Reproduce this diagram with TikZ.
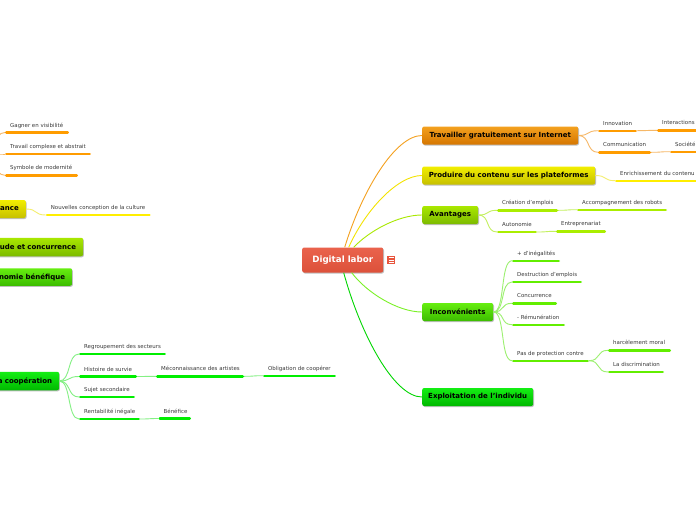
\documentclass[tikz,border=0pt]{standalone}
\usepackage{fontspec}
\setmainfont{DejaVu Sans}
\usetikzlibrary{shadows}
\definecolor{orTop}{HTML}{F4A11F}\definecolor{orBot}{HTML}{D57600}
\definecolor{orUL}{HTML}{FF9C00}\definecolor{orLn}{HTML}{F6B868}
\definecolor{yeTop}{HTML}{F2EE00}\definecolor{yeBot}{HTML}{C6C000}
\definecolor{yeUL}{HTML}{FFEE00}\definecolor{yeLn}{HTML}{F4EE70}
\definecolor{ygTop}{HTML}{A9E800}\definecolor{ygBot}{HTML}{7CBA00}
\definecolor{ygUL}{HTML}{AAEE00}\definecolor{ygLn}{HTML}{C4F060}
\definecolor{gTop}{HTML}{66EE10}\definecolor{gBot}{HTML}{3CBC00}
\definecolor{gUL}{HTML}{62EE00}\definecolor{gLn}{HTML}{9CF070}
\definecolor{bgTop}{HTML}{14EE14}\definecolor{bgBot}{HTML}{00B800}
\definecolor{bgUL}{HTML}{00EE00}\definecolor{bgLn}{HTML}{84F084}
\definecolor{ctrRed}{HTML}{E8553D}
\definecolor{labGray}{HTML}{383838}
\newcommand\mmboxfont{\bfseries\fontsize{7}{8}\selectfont}
\newcommand\mmlabfont{\fontsize{5.45}{6}\selectfont}
\newcommand\mmlab[6]{% name, x0, x1, y, colour, text
  \node[ulnode, minimum width={#3-#2}] (#1) at (#2,#4) {};
  \draw[ulline=#5] (#1.west) -- (#1.east);
  \node[labtxt] (#1t) at ([xshift=5pt,yshift=5.5pt]#1.west) {#6};}
\begin{document}
\begin{tikzpicture}[x=1pt,y=-1pt,
  mmbox/.style={rounded corners=2pt, inner xsep=0pt, inner ysep=0pt,
    minimum height=18, font=\mmboxfont, text=black, anchor=west,
    drop shadow={shadow xshift=0.8pt, shadow yshift=-1pt, opacity=0.25, fill=black}},
  lbox/.style={mmbox, anchor=east, text width=140, align=right, inner xsep=7pt},
  c-or/.style={top color=orTop, bottom color=orBot},
  c-ye/.style={top color=yeTop, bottom color=yeBot},
  c-yg/.style={top color=ygTop, bottom color=ygBot},
  c-g/.style={top color=gTop, bottom color=gBot},
  c-bg/.style={top color=bgTop, bottom color=bgBot},
  ulnode/.style={anchor=west, inner sep=0pt, outer sep=0pt, minimum height=0pt},
  ulline/.style={draw=#1, line width=2.4pt, line cap=round, shorten <=1.2pt, shorten >=1.2pt},
  labtxt/.style={anchor=base west, inner sep=0pt, font=\mmlabfont, text=labGray},
  cn/.style={draw=#1, line width=0.9pt},
  mm/.style={to path={.. controls ([xshift=12pt]\tikztostart) and ([xshift=-12pt]\tikztotarget) .. (\tikztotarget)}}
]
\useasboundingbox (0,0) rectangle (696,520);
\clip (0,0) rectangle (696,520);
\fill[white] (0,0) rectangle (696,520);

% ---------- centre ----------
\node[mmbox, minimum width=81, minimum height=25, top color=ctrRed!92!white, bottom color=ctrRed!95!black,
      font=\bfseries\fontsize{8.7}{10}\selectfont, text=white] (ctr) at (302,260) {Digital labor};
\node[fill=ctrRed, minimum width=8, minimum height=8.3, inner sep=0pt] (noteicon) at (391.2,259.9) {};
\draw[white, line width=0.7pt] ([xshift=1.8pt,yshift=-2pt]noteicon.north west) -- ([xshift=-1.8pt,yshift=-2pt]noteicon.north east)
  ([xshift=1.8pt]noteicon.west) -- ([xshift=-1.8pt]noteicon.east)
  ([xshift=1.8pt,yshift=2pt]noteicon.south west) -- ([xshift=-1.8pt,yshift=2pt]noteicon.south east);

% ---------- right main branches ----------
\node[mmbox, c-or, minimum width=156] (trav) at (422,135.5) {Travailler gratuitement sur Internet};
\node[mmbox, c-ye, minimum width=173] (prod) at (422,175.5) {Produire du contenu sur les plateformes};
\node[mmbox, c-yg, minimum width=56] (avant) at (422,215) {Avantages};
\node[mmbox, c-g, minimum width=71] (incon) at (422,312) {Inconvénients};
\node[mmbox, c-bg, minimum width=111] (explo) at (422,397) {Exploitation de l'individu};

\draw[cn=orTop] ([xshift=2pt]ctr.north) .. controls +(17,-56) and +(-27,0) .. (trav.west);
\draw[cn=yeTop!90!orange] ([xshift=6pt]ctr.north) .. controls +(16,-36) and +(-25,0) .. (prod.west);
\draw[cn=ygTop] ([xshift=11pt]ctr.north) .. controls +(15,-16) and +(-24,0) .. (avant.west);
\draw[cn=gUL!85!white] ([xshift=9pt]ctr.south) .. controls +(15,20) and +(-24,0) .. (incon.west);
\draw[cn=bgUL!90!black] ([xshift=1pt]ctr.south) .. controls +(17,62) and +(-28,0) .. (explo.west);

% ---------- right labels ----------
\mmlab{inno}{598}{637}{130.7}{orUL}{Innovation}
\mmlab{inter}{657}{712}{130.3}{orUL}{Interactions}
\mmlab{comm}{598}{651}{152.3}{orUL}{Communication}
\mmlab{soc}{670}{712}{151.7}{orUL}{Société}
\draw[cn=orLn] (trav.east) to[mm] (inno.west);
\draw[cn=orLn] (trav.east) to[mm] (comm.west);
\draw[cn=orLn] (inno.east) to[mm] (inter.west);
\draw[cn=orLn] (comm.east) to[mm] (soc.west);

\mmlab{enrich}{615}{712}{180.7}{yeUL}{Enrichissement du contenu}
\draw[cn=yeLn] (prod.east) to[mm] (enrich.west);

\mmlab{crea}{497}{558}{210.3}{ygUL}{Création d'emplois}
\mmlab{accomp}{577}{667}{209.7}{ygUL}{Accompagnement des robots}
\mmlab{auto}{497}{537}{232}{ygUL}{Autonomie}
\mmlab{entre}{556}{606}{231.3}{ygUL}{Entreprenariat}
\draw[cn=ygLn] (avant.east) to[mm] (crea.west);
\draw[cn=ygLn] (avant.east) to[mm] (auto.west);
\draw[cn=ygLn] (crea.east) to[mm] (accomp.west);
\draw[cn=ygLn] (auto.east) to[mm] (entre.west);

\mmlab{ineg}{512}{560}{260.7}{gUL}{+ d'inégalités}
\mmlab{destr}{512}{582}{282}{gUL}{Destruction d'emplois}
\mmlab{conc}{512}{557}{303.3}{gUL}{Concurrence}
\mmlab{remu}{512}{565}{324.7}{gUL}{- Rémunération}
\mmlab{prot}{512}{589}{360.7}{gUL}{Pas de protection contre}
\mmlab{harc}{608}{671}{350.3}{gUL}{harcèlement moral}
\mmlab{discr}{608}{664}{372}{gUL}{La discrimination}
\foreach \k in {ineg,destr,conc,remu,prot}{\draw[cn=gLn] (incon.east) to[mm] (\k.west);}
\draw[cn=gLn] (prot.east) to[mm] (harc.west);
\draw[cn=gLn] (prot.east) to[mm] (discr.west);

% ---------- left side ----------
\coordinate (lhp) at (-16,154);
\mmlab{gagner}{5}{69}{132.5}{orUL}{Gagner en visibilité}
\mmlab{travcx}{5}{91}{154}{orUL}{Travail complexe et abstrait}
\mmlab{symb}{5}{78}{175.3}{orUL}{Symbole de modernité}
\foreach \k in {gagner,travcx,symb}{\draw[cn=orLn] (lhp) to[mm] (\k.west);}

\node[lbox, c-ye] (ance) at (26,209) {ance};
\mmlab{nouv}{45.7}{150.7}{215}{yeUL}{Nouvelles conception de la culture}
\draw[cn=yeLn] (ance.east) to[mm] (nouv.west);

\node[lbox, c-yg, minimum height=18.5] (udec) at (83.3,247) {ude et concurrence};
\node[lbox, c-g, minimum height=17.5] (nomie) at (72.3,277) {nomie bénéfique};
\node[lbox, c-bg, minimum height=18.5] (coop) at (59.3,381) {a coopération};

\mmlab{regr}{79}{166}{354}{bgUL}{Regroupement des secteurs}
\mmlab{hist}{79}{137}{376.5}{bgUL}{Histoire de survie}
\mmlab{mecon}{156}{244}{376.3}{bgUL}{Méconnaissance des artistes}
\mmlab{oblig}{263}{336}{375.7}{bgUL}{Obligation de coopérer}
\mmlab{sujet}{79}{135}{397}{bgUL}{Sujet secondaire}
\mmlab{rent}{79}{140}{419}{bgUL}{Rentabilité inégale}
\mmlab{bene}{158.5}{191}{418.5}{bgUL}{Bénéfice}
\foreach \k in {regr,hist,sujet,rent}{\draw[cn=bgLn] (coop.east) to[mm] (\k.west);}
\draw[cn=bgLn] (hist.east) to[mm] (mecon.west);
\draw[cn=bgLn] (mecon.east) to[mm] (oblig.west);
\draw[cn=bgLn] (rent.east) to[mm] (bene.west);
\end{tikzpicture}
\end{document}
